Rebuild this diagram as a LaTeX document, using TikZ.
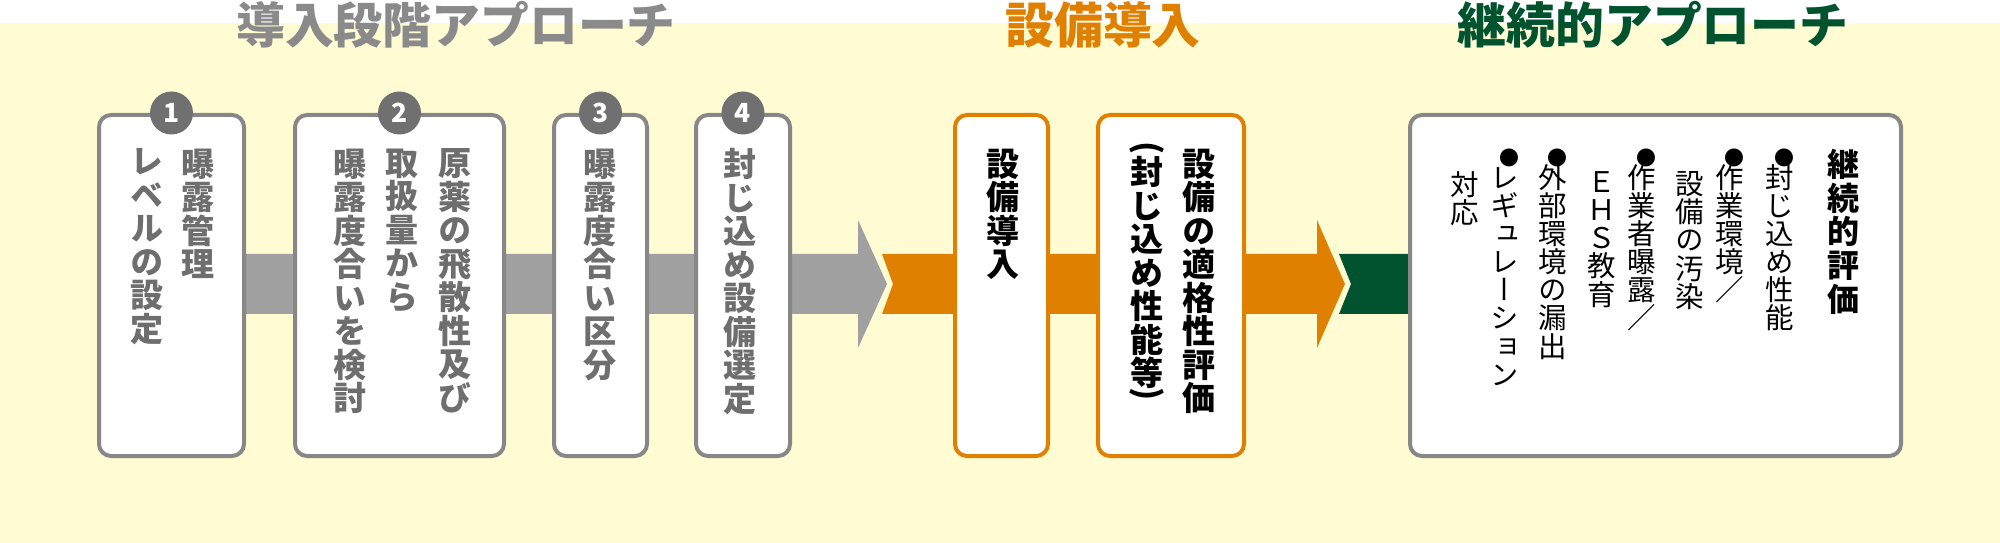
\documentclass[tikz,border=0pt]{standalone}
\usepackage{fontspec}
\usepackage{graphicx}
\usetikzlibrary{positioning,calc,backgrounds}
\newfontfamily\jpfont{Noto Sans CJK JP}
\newfontfamily\jpvfont[RawFeature=+vert]{Noto Sans CJK JP}
\definecolor{bgyellow}{RGB}{255,251,210}
\definecolor{arrgray}{RGB}{160,160,160}
\definecolor{boxgray}{RGB}{135,135,135}
\definecolor{numgray}{RGB}{112,112,112}
\definecolor{txtgray}{RGB}{110,110,110}
\definecolor{ttlgray}{RGB}{138,138,138}
\definecolor{eqorange}{RGB}{224,128,0}
\definecolor{contgreen}{RGB}{0,83,46}
% small bullet and turned brackets for the vertical columns
\newcommand{\vbul}{\hspace*{0.08cm}\scalebox{0.7}{●}}
\newcommand{\vopen}{{\jpfont\bfseries\rotatebox[origin=c]{-90}{(}}}
\newcommand{\vclose}{{\jpfont\bfseries\rotatebox[origin=c]{-90}{)}}}

\begin{document}
\begin{tikzpicture}[
  stage/.style={draw=boxgray, line width=0.04cm, rounded corners=0.12cm, fill=white, minimum height=3.41cm, inner sep=0pt},
  eqbox/.style={stage, draw=eqorange},
  num/.style={circle, fill=numgray, minimum size=0.43cm, inner sep=0pt, text=white, font=\jpfont\bfseries\fontsize{7.5pt}{7.5pt}\selectfont},
  vtxt/.style={anchor=north, align=center, inner sep=0pt, text=txtgray, font=\jpvfont\bfseries\fontsize{9.4pt}{9.53pt}\selectfont, execute at begin node={\rule{0pt}{0.9em}}},
  vblk/.style={vtxt, text=black},
  vitem/.style={vblk, font=\jpvfont\fontsize{8.1pt}{8.0pt}\selectfont},
  vhead/.style={vblk, font=\jpvfont\bfseries\fontsize{9.1pt}{9.67pt}\selectfont},
  ttl/.style={inner sep=0pt, font=\jpfont\bfseries\fontsize{13.9pt}{13.9pt}\selectfont},
  node distance=0.46cm
]
\useasboundingbox (0,0) rectangle (20,-5.43);

% stages
\node[stage, minimum width=1.45cm] (b1) at (1.715,-2.855) {};
\node[stage, minimum width=2.09cm, right=0.47cm of b1] (b2) {};
\node[stage, minimum width=0.93cm, right=0.46cm of b2] (b3) {};
\node[stage, minimum width=0.94cm, right=0.45cm of b3] (b4) {};
\node[eqbox, minimum width=0.93cm, right=1.61cm of b4] (b5) {};
\node[eqbox, minimum width=1.46cm, right=0.46cm of b5] (b6) {};
\node[stage, minimum width=4.91cm, right=1.62cm of b6] (b7) {};

\foreach \i in {1,...,4}
  \node[num] (n\i) at (b\i.north) {\i};

% titles
\node[ttl, text=ttlgray] (ttl1) at (4.56,-0.25) {導入段階アプローチ};
\node[ttl, text=eqorange] (ttl2) at (11.03,-0.25) {設備導入};
\node[ttl, text=contgreen] (ttl3) at (16.53,-0.25) {継続的アプローチ};

% box texts
\node[vtxt] (t1a) at ($(b1.north)+(0.265,-0.35)$) {曝\\露\\管\\理};
\node[vtxt] (t1b) at ($(b1.north)+(-0.245,-0.35)$) {レ\\ベ\\ル\\の\\設\\定};
\node[vtxt] (t2a) at ($(b2.north)+(0.555,-0.35)$) {原\\薬\\の\\飛\\散\\性\\及\\び};
\node[vtxt] (t2b) at ($(b2.north)+(0.025,-0.35)$) {取\\扱\\量\\か\\ら};
\node[vtxt] (t2c) at ($(b2.north)+(-0.495,-0.35)$) {曝\\露\\度\\合\\い\\を\\検\\討};
\node[vtxt] (t3) at ($(b3.north)+(0,-0.35)$) {曝\\露\\度\\合\\い\\区\\分};
\node[vtxt] (t4) at ($(b4.north)+(-0.03,-0.35)$) {封\\じ\\込\\め\\設\\備\\選\\定};
\node[vblk] (t5) at ($(b5.north)+(0.015,-0.35)$) {設\\備\\導\\入};
\node[vblk] (t6a) at ($(b6.north)+(0.28,-0.35)$) {設\\備\\の\\適\\格\\性\\評\\価};
\node[vblk] (t6b) at ($(b6.north)+(-0.24,-0.28)$) {\vopen\\[-0.075cm]封\\じ\\込\\め\\性\\能\\等\\[-0.145cm]\vclose};

\node[vhead] (t7) at ($(b7.north)+(1.875,-0.35)$) {継\\続\\的\\評\\価};
\node[vitem] (c1) at ($(b7.north)+(1.245,-0.35)$) {\vbul\\[-0.05cm]封\\じ\\込\\め\\性\\能};
\node[vitem] (c2) at ($(b7.north)+(0.745,-0.35)$) {\vbul\\[-0.05cm]作\\業\\環\\境\\／};
\node[vitem] (c3) at ($(b7.north)+(0.345,-0.58)$) {設\\備\\の\\汚\\染};
\node[vitem] (c4) at ($(b7.north)+(-0.135,-0.35)$) {\vbul\\[-0.05cm]作\\業\\者\\曝\\露\\／};
\node[vitem] (c5) at ($(b7.north)+(-0.535,-0.58)$) {Ｅ\\Ｈ\\Ｓ\\教\\育};
\node[vitem] (c6) at ($(b7.north)+(-1.025,-0.35)$) {\vbul\\[-0.05cm]外\\部\\環\\境\\の\\漏\\出};
\node[vitem] (c7) at ($(b7.north)+(-1.505,-0.35)$) {\vbul\\[-0.05cm]レ\\ギ\\ュ\\レ\\ー\\シ\\ョ\\ン};
\node[vitem] (c8) at ($(b7.north)+(-1.905,-0.58)$) {対\\応};

\begin{pgfonlayer}{background}
\fill[bgyellow] (0,-0.23) rectangle (20,-5.43);
% band arrows
\fill[arrgray] (b1.center |- 0,-2.54) -- (8.58,-2.54) -- (8.58,-2.20) -- (8.87,-2.84)
  -- (8.58,-3.48) -- (8.58,-3.14) -- (b1.center |- 0,-3.14) -- cycle;
\fill[eqorange] (8.82,-2.54) -- (13.17,-2.54) -- (13.17,-2.20) -- (13.45,-2.84)
  -- (13.17,-3.48) -- (13.17,-3.14) -- (8.82,-3.14) -- (8.93,-2.84) -- cycle;
\fill[contgreen] (13.39,-2.54) -- (b7.center |- 0,-2.54) -- (b7.center |- 0,-3.14)
  -- (13.39,-3.14) -- (13.51,-2.84) -- cycle;
\end{pgfonlayer}
\end{tikzpicture}
\end{document}
